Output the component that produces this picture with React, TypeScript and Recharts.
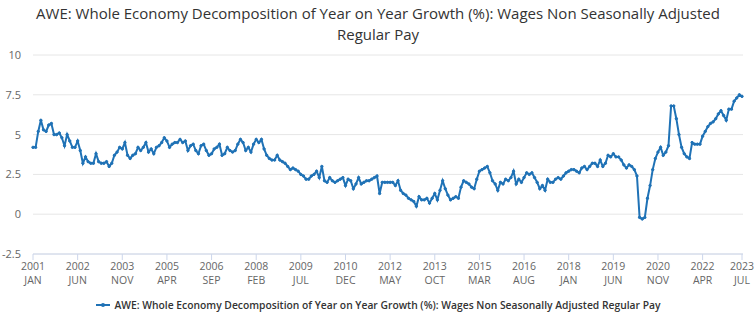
import { LineChart, Line, XAxis, YAxis, CartesianGrid } from "recharts";

const FONT = "'Open Sans', sans-serif";
const BLUE = "#1f72b6";

const titleLines = [
  "AWE: Whole Economy Decomposition of Year on Year Growth (%): Wages Non Seasonally Adjusted",
  "Regular Pay",
];
const seriesName =
  "AWE: Whole Economy Decomposition of Year on Year Growth (%): Wages Non Seasonally Adjusted Regular Pay";

// monthly values, Jan 2001 .. Jul 2023
const regularPay = [
  4.2, 4.2, 5.2, 5.9, 5.3, 5.2, 5.6, 5.7, 5.0, 5.0, 5.1, 4.8, // 2001
  4.3, 5.0, 4.6, 4.2, 4.2, 4.6, 4.0, 3.2, 3.6, 3.3, 3.2, 3.2, // 2002
  3.8, 3.3, 3.2, 3.2, 3.3, 3.0, 3.2, 3.7, 3.9, 4.2, 4.1, 4.5, // 2003
  3.7, 3.5, 3.7, 3.8, 4.2, 4.0, 4.2, 4.5, 3.9, 4.1, 3.8, 4.2, // 2004
  4.3, 4.5, 4.8, 4.6, 4.2, 4.4, 4.5, 4.5, 4.7, 4.5, 4.6, 4.0, // 2005
  4.3, 4.4, 4.0, 3.8, 4.3, 4.4, 4.0, 3.7, 3.8, 4.1, 4.2, 4.4, // 2006
  3.7, 3.8, 4.2, 4.0, 3.9, 4.0, 4.4, 4.7, 4.5, 4.0, 4.2, 3.9, // 2007
  4.4, 4.7, 4.5, 4.7, 4.1, 3.7, 3.5, 3.4, 3.4, 3.7, 3.4, 3.3, // 2008
  3.2, 3.0, 2.8, 2.9, 2.8, 2.7, 2.5, 2.4, 2.2, 2.2, 2.4, 2.5, // 2009
  2.7, 2.3, 3.0, 2.1, 2.0, 2.3, 2.1, 2.0, 2.1, 2.2, 2.3, 1.8, // 2010
  2.2, 2.1, 1.6, 1.9, 2.3, 1.9, 2.0, 2.1, 2.1, 2.2, 2.3, 2.4, // 2011
  1.3, 2.0, 2.0, 2.0, 2.0, 2.0, 1.8, 2.1, 1.5, 1.3, 1.2, 1.0, // 2012
  0.9, 0.8, 0.5, 1.1, 0.9, 0.9, 1.0, 0.7, 1.0, 1.3, 0.9, 1.5, // 2013
  2.1, 1.6, 1.2, 0.9, 1.0, 1.1, 1.0, 1.7, 2.1, 2.0, 1.9, 1.7, // 2014
  1.6, 2.2, 2.7, 2.8, 2.9, 3.0, 2.6, 2.1, 1.9, 1.5, 2.0, 1.9, // 2015
  2.2, 2.1, 2.3, 2.7, 1.9, 2.2, 2.0, 2.3, 2.6, 2.5, 2.6, 2.3, // 2016
  2.0, 1.6, 1.8, 1.5, 2.2, 2.0, 2.0, 2.2, 2.3, 2.2, 2.4, 2.6, // 2017
  2.7, 2.8, 2.8, 2.7, 2.6, 2.9, 3.0, 2.8, 3.0, 3.2, 3.2, 3.0, // 2018
  3.4, 3.0, 3.2, 3.7, 3.6, 3.8, 3.6, 3.6, 3.4, 3.1, 2.9, 3.1, // 2019
  3.0, 2.8, 2.4, -0.2, -0.3, -0.2, 1.0, 1.8, 2.8, 3.5, 3.9, 4.2, // 2020
  3.7, 3.9, 4.3, 6.8, 6.8, 6.0, 5.0, 4.2, 3.8, 3.6, 3.5, 4.5, // 2021
  4.4, 4.4, 4.4, 4.9, 5.2, 5.5, 5.7, 5.8, 6.0, 6.3, 6.5, 6.2, // 2022
  5.9, 6.6, 6.6, 7.1, 7.3, 7.5, 7.4, // 2023
];

const tickIndex = [0, 17, 34, 51, 68, 85, 102, 119, 136, 153, 170, 187, 204, 221, 238, 255, 270];
const tickYears = ["2001", "2002", "2003", "2005", "2006", "2008", "2009", "2010", "2012", "2013", "2015", "2016", "2018", "2019", "2020", "2022", "2023"];
const tickMonths = ["JAN", "JUN", "NOV", "APR", "SEP", "FEB", "JUL", "DEC", "MAY", "OCT", "MAR", "AUG", "JAN", "JUN", "NOV", "APR", "JUL"];
const yTicks = [-2.5, 0, 2.5, 5, 7.5, 10];

const rows = regularPay.map((v, i) => ({ idx: i, value: v }));

function DateTick(props: any) {
  const { x, y, payload } = props;
  const k = tickIndex.indexOf(payload.value);
  return (
    <g fontFamily={FONT} fontSize={10.5} fill="#666">
      <text x={x} y={y + 8} textAnchor="middle">{tickYears[k]}</text>
      <text x={x} y={y + 22} textAnchor="middle">{tickMonths[k]}</text>
    </g>
  );
}

export default function App() {
  return (
    <div style={{ position: "absolute", left: 0, top: 0, width: 756, height: 321, background: "#fff", fontFamily: FONT }}>
      {titleLines.map((t, i) => (
        <div
          key={i}
          style={{ position: "absolute", top: 3 + i * 20.5, left: 0, width: 756, textAlign: "center", fontSize: 15, lineHeight: "20px", color: "#333" }}
        >
          {t}
        </div>
      ))}
      <LineChart
        width={756}
        height={321}
        data={rows}
        margin={{ top: 55, right: 13, bottom: 0, left: 0 }}
      >
        <CartesianGrid vertical={false} stroke="#e6e6e6" />
        <XAxis
          dataKey="idx"
          type="number"
          domain={[0, 270]}
          ticks={tickIndex}
          interval={0}
          padding={{ left: 0, right: 1 }}
          stroke="#ccd6eb"
          tickSize={6}
          tick={<DateTick />}
          height={67}
        />
        <YAxis
          domain={[-2.5, 10]}
          ticks={yTicks}
          width={33}
          axisLine={false}
          tickLine={false}
          tickMargin={6}
          tick={{ fontFamily: FONT, fontSize: 11, fill: "#666" }}
        />
        <Line
          dataKey="value"
          stroke={BLUE}
          strokeWidth={2}
          dot={{ r: 1.2, fill: BLUE, stroke: BLUE, strokeWidth: 1 }}
          isAnimationActive={false}
        />
      </LineChart>
      <div style={{ position: "absolute", top: 298, left: 0, width: 756, display: "flex", justifyContent: "center", alignItems: "center" }}>
        <svg width={14} height={10} style={{ marginRight: 5 }}>
          <line x1={0} y1={5} x2={14} y2={5} stroke={BLUE} strokeWidth={2} />
          <circle cx={7} cy={5} r={2} fill={BLUE} />
        </svg>
        <span style={{ fontSize: 10.3, fontWeight: 600, color: "#333" }}>{seriesName}</span>
      </div>
    </div>
  );
}
